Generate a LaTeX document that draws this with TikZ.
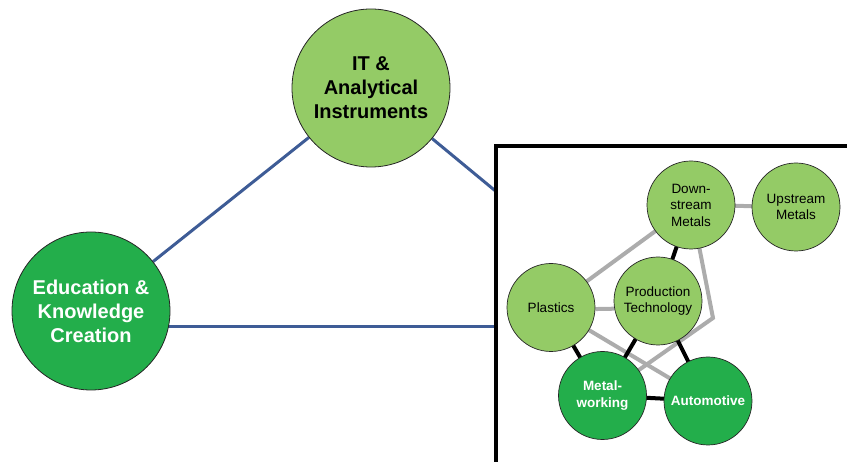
\documentclass[tikz,border=0pt]{standalone}
\usepackage{fontspec}
\setmainfont{Liberation Sans}
\usetikzlibrary{backgrounds}
\definecolor{lgreen}{RGB}{148,203,102}
\definecolor{dgreen}{RGB}{35,174,75}
\definecolor{blueline}{RGB}{62,92,150}
\definecolor{grayline}{RGB}{172,172,172}
\tikzset{
  bigc/.style={circle, draw=black!85, line width=0.8pt, minimum size=158pt, inner sep=0pt, align=center, font=\fontsize{20}{24}\selectfont\bfseries},
  smallc/.style={circle, draw=black!85, line width=0.7pt, minimum size=88pt, inner sep=0pt, align=center, font=\fontsize{13.5}{16.5}\selectfont},
  smallbold/.style={smallc, font=\fontsize{13.5}{16.5}\selectfont\bfseries},
  light/.style={fill=lgreen, text=black},
  dark/.style={fill=dgreen, text=white},
  bluelink/.style={draw=blueline, line width=3pt},
  weaklink/.style={draw=grayline, line width=4pt, line join=miter},
  stronglink/.style={draw=black, line width=4pt},
  frame/.style={draw=black, line width=4pt}
}
\begin{document}
\begin{tikzpicture}[x=1pt,y=-1pt]
\useasboundingbox (0,0) rectangle (847,462);
% main nodes
\node[bigc, light] (it) at (371,88) {IT \&\\Analytical\\Instruments};
\node[bigc, dark] (edu) at (91,311) {Education \&\\Knowledge\\Creation};
% inset circles
\node[smallc, light] (down) at (691,205) {Down-\\stream\\Metals};
\node[smallc, light] (up) at (796,207) {Upstream\\Metals};
\node[smallc, light] (pla) at (551,307.5) {Plastics};
\node[smallc, light] (prod) at (658,301) {Production\\Technology};
\node[smallbold, dark] (mw) at (602.5,395.5) {Metal-\\working};
\node[smallbold, dark] (auto) at (708,401) {Automotive};
% frame and free ends
\coordinate (itend) at (495.5,191);
\coordinate (eduend) at (495.5,327);
\coordinate (fbl) at (495.5,464);
\coordinate (ftl) at (495.5,146);
\coordinate (ftr) at (849,146);
\coordinate (bend) at (713,318);
\begin{scope}[on background layer]
\draw[bluelink] (edu) -- (it);
\draw[bluelink] (it) -- (itend);
\draw[bluelink] (edu.center |- eduend) -- (eduend);
\draw[frame] (fbl) -- (ftl) -- (ftr);
% weak links
\draw[weaklink] (down.center) -- (up.center);
\draw[weaklink] (pla.center) -- (down.center);
\draw[weaklink] (pla.center) -- (auto.center);
\draw[weaklink] (down.center) -- (bend) -- (mw.center);
\draw[weaklink] (pla.-2) -- (prod.190);
% strong links
\draw[stronglink] (down.center) -- (prod.center);
\draw[stronglink] (pla.center) -- (mw.center);
\draw[stronglink] (prod.center) -- (mw.center);
\draw[stronglink] (prod.center) -- (auto.center);
\draw[stronglink] (mw.center) -- (auto.center);
\end{scope}
\end{tikzpicture}
\end{document}
